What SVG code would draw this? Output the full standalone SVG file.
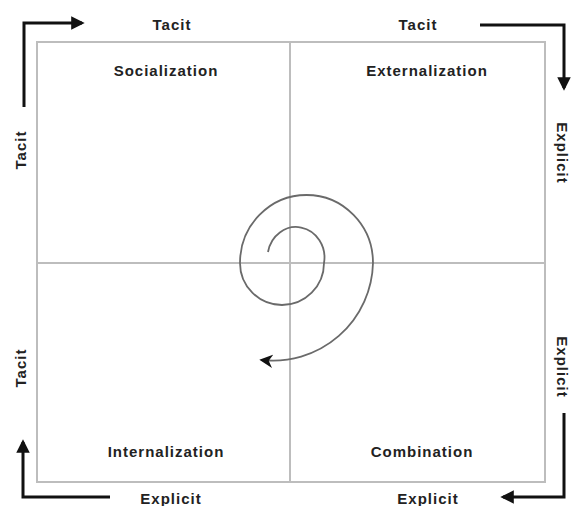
<svg xmlns="http://www.w3.org/2000/svg" width="572" height="506" viewBox="0 0 572 506">
<defs>
<style>
.lbl{font-family:"Liberation Sans",Arial,sans-serif;font-weight:bold;font-size:15px;fill:#222;letter-spacing:1px;text-anchor:middle;dominant-baseline:central}
.grid{stroke:#bdbdbd;stroke-width:2;fill:none}
.arr{stroke:#111;stroke-width:3;fill:none}
</style>
<marker id="ah" viewBox="0 0 10 10" refX="8" refY="5" markerWidth="4.5" markerHeight="4.5" orient="auto" markerUnits="strokeWidth">
<path d="M0,0 L10,5 L0,10 Z" fill="#111"/>
</marker>
<marker id="ahs" viewBox="0 0 10 10" refX="8" refY="5" markerWidth="7.5" markerHeight="7.5" orient="auto" markerUnits="strokeWidth">
<path d="M0,0 L10,5 L0,10 L3,5 Z" fill="#111"/>
</marker>
</defs>
<rect width="572" height="506" fill="#fff"/>
<g id="quadrants">
<rect class="grid" x="37" y="42" width="508" height="440"/>
<line class="grid" x1="290" y1="42" x2="290" y2="482"/>
<line class="grid" x1="37" y1="263" x2="545" y2="263"/>
</g>
<g id="socialization"><text class="lbl" x="166" y="70">Socialization</text></g>
<g id="externalization"><text class="lbl" x="427" y="70">Externalization</text></g>
<g id="internalization"><text class="lbl" x="166" y="451">Internalization</text></g>
<g id="combination"><text class="lbl" x="422" y="451">Combination</text></g>
<g id="axis-labels">
<text class="lbl" x="172" y="24">Tacit</text>
<text class="lbl" x="418" y="24">Tacit</text>
<text class="lbl" x="171" y="498">Explicit</text>
<text class="lbl" x="428" y="498">Explicit</text>
<text class="lbl" transform="translate(20,150) rotate(-90)">Tacit</text>
<text class="lbl" transform="translate(20,368) rotate(-90)">Tacit</text>
<text class="lbl" transform="translate(562,153) rotate(90)">Explicit</text>
<text class="lbl" transform="translate(562,367) rotate(90)">Explicit</text>
</g>
<g id="connectors">
<path class="arr" d="M24,107 L24,23 L82,23" marker-end="url(#ah)"/>
<path class="arr" d="M480,25 L564,25 L564,88" marker-end="url(#ah)"/>
<path class="arr" d="M110,497 L23,497 L23,442" marker-end="url(#ah)"/>
<path class="arr" d="M564,413 L564,497 L503,497" marker-end="url(#ah)"/>
<path d="M268,252 A28,30 0 0 1 324,263 A42,42 0 0 1 240,263 A66.5,68 0 0 1 373,263 A100,100 0 0 1 262,360" fill="none" stroke="#6a6a6a" stroke-width="1.8" marker-end="url(#ahs)"/>
</g>
</svg>
